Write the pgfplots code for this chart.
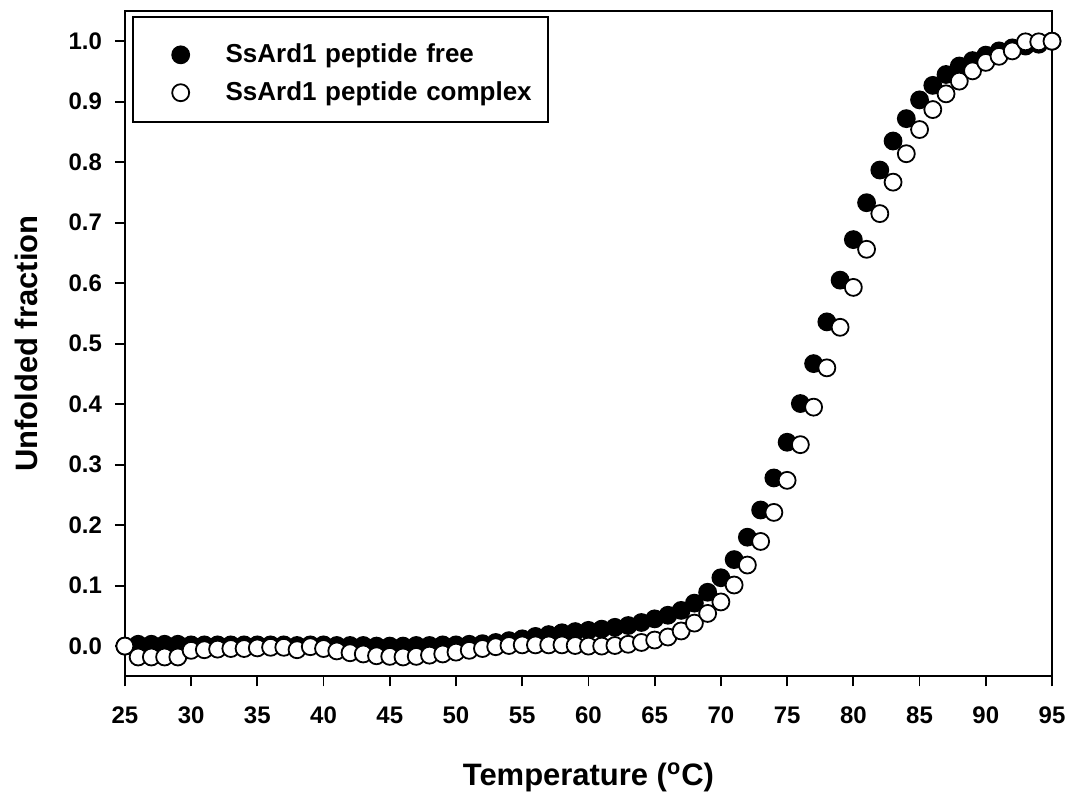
\documentclass[border=0pt]{standalone}
\usepackage{fontspec}
\setmainfont{Liberation Sans}
\usepackage{pgfplots}
\pgfplotsset{compat=1.18}

% unfolded fraction vs temperature, free peptide and complex
\pgfplotstableread{
T    free   cplx
25   0.000  0.000
26   0.003 -0.018
27   0.003 -0.018
28   0.003 -0.018
29   0.003 -0.018
30   0.002 -0.007
31   0.002 -0.006
32   0.002 -0.005
33   0.002 -0.004
34   0.002 -0.004
35   0.002 -0.003
36   0.002 -0.002
37   0.002 -0.002
38   0.001 -0.006
39   0.002 -0.001
40   0.002 -0.004
41   0.001 -0.008
42   0.001 -0.011
43   0.001 -0.013
44   0.000 -0.016
45   0.000 -0.017
46   0.000 -0.018
47   0.001 -0.017
48   0.001 -0.015
49   0.002 -0.013
50   0.002 -0.010
51   0.003 -0.007
52   0.004 -0.004
53   0.006 -0.001
54   0.009  0.001
55   0.012  0.002
56   0.016  0.002
57   0.019  0.002
58   0.022  0.002
59   0.024  0.001
60   0.026  0.000
61   0.028  0.000
62   0.031  0.001
63   0.034  0.003
64   0.039  0.006
65   0.045  0.010
66   0.051  0.015
67   0.059  0.025
68   0.071  0.038
69   0.089  0.054
70   0.113  0.073
71   0.143  0.101
72   0.180  0.134
73   0.225  0.173
74   0.278  0.221
75   0.337  0.274
76   0.401  0.333
77   0.467  0.395
78   0.536  0.460
79   0.605  0.527
80   0.672  0.593
81   0.733  0.656
82   0.787  0.715
83   0.835  0.767
84   0.872  0.814
85   0.903  0.854
86   0.927  0.887
87   0.945  0.913
88   0.959  0.934
89   0.968  0.951
90   0.977  0.965
91   0.984  0.975
92   0.989  0.984
93   0.992  0.999
94   0.995  0.999
95   1.000  1.000
}\meltdata

\begin{document}
\begin{tikzpicture}
\begin{axis}[
    scale only axis,
    width=464pt,
    height=333pt,
    xmin=25, xmax=95,
    ymin=-0.05, ymax=1.05,
    xtick={25,30,...,95},
    ytick={0,0.1,...,1.0},
    xtick pos=bottom,
    ytick pos=left,
    tick align=outside,
    major tick length=5pt,
    axis line style={line width=0.9pt},
    tick style={line width=0.9pt, black},
    /pgf/number format/assume math mode=true,
    ticklabel style={font=\fontsize{12}{14}\selectfont\bfseries},
    xticklabel style={yshift=-6pt, text height=9pt, text depth=0pt},
    yticklabel style={xshift=-3pt,
        /pgf/number format/fixed,
        /pgf/number format/fixed zerofill,
        /pgf/number format/precision=1},
    xlabel={Temperature (\textsuperscript{o}C)},
    ylabel={Unfolded fraction},
    label style={font=\fontsize{15.5}{18}\selectfont\bfseries},
    xlabel style={at={(axis description cs:0.5,-0.1637)}, anchor=base},
    ylabel style={at={(axis description cs:-0.106,0.5)}, anchor=center},
    clip=false,
    legend cell align=left,
    legend image code/.code={
        \path[draw=none, fill=none] (-24pt,-1.5pt) rectangle (20pt,10pt);
        \draw[#1] plot coordinates {(0pt,0pt)};
    },
    legend style={
        at={(axis description cs:0.0075,0.9925)},
        anchor=north west,
        draw=black,
        line width=0.9pt,
        inner xsep=0pt,
        inner ysep=9pt,
        row sep=3.5pt,
        font=\fontsize{13}{15}\selectfont\bfseries,
        nodes={inner xsep=2.5pt, inner ysep=0pt, text width=159pt},
    },
]

\addplot[only marks, mark=*, mark size=4.25pt,
    mark options={fill=black, draw=black, line width=0.9pt}]
    table[x=T, y=free] {\meltdata};
\addlegendentry{SsArd1 peptide free}

\addplot[only marks, mark=*, mark size=4.25pt,
    mark options={fill=white, draw=black, line width=0.9pt}]
    table[x=T, y=cplx] {\meltdata};
\addlegendentry{SsArd1 peptide complex}

% page extent as in the reference
\path (rel axis cs:-0.1347,-0.1787) rectangle (rel axis cs:1.0205,1.0165);

\end{axis}
\end{tikzpicture}
\end{document}
